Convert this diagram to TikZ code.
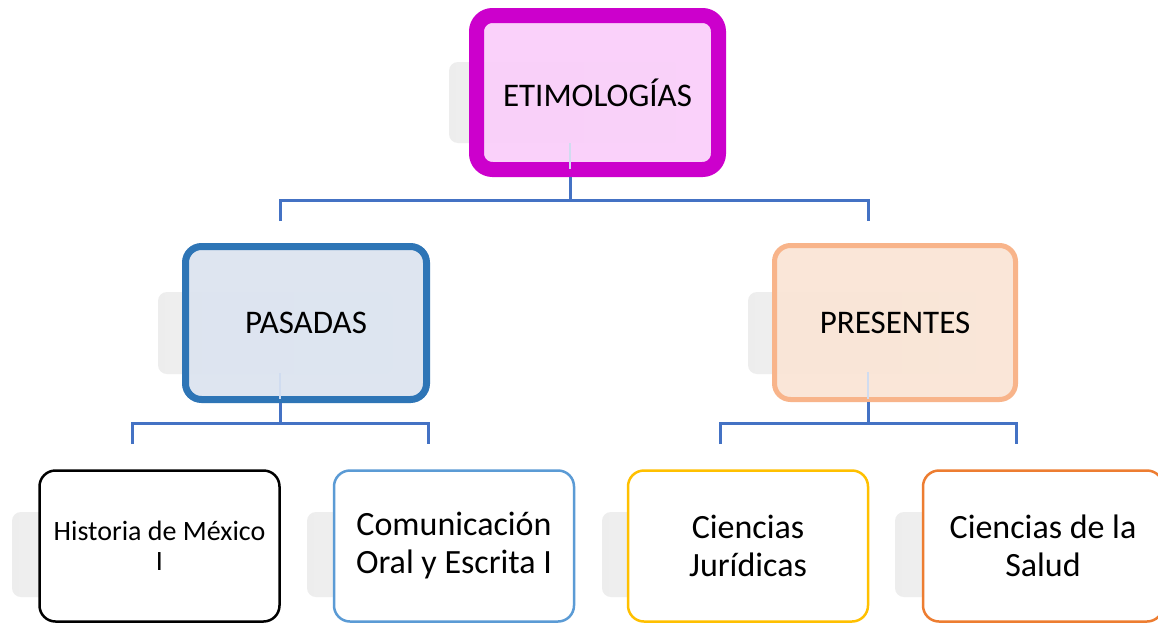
\documentclass[tikz,border=0pt]{standalone}
\usepackage{fontspec}
\setmainfont{Carlito}
\definecolor{magB}{RGB}{204,0,204}
\definecolor{magF}{RGB}{250,206,250}
\definecolor{bluB}{RGB}{46,117,182}
\definecolor{bluF}{RGB}{220,228,240}
\definecolor{orgB}{RGB}{248,180,138}
\definecolor{orgF}{RGB}{250,229,214}
\definecolor{comB}{RGB}{91,155,213}
\definecolor{jurB}{RGB}{255,192,0}
\definecolor{salB}{RGB}{237,125,49}
\definecolor{connC}{RGB}{68,114,196}
\tikzset{
  box/.style={rectangle, rounded corners=16pt, align=center, inner sep=0pt, text=black},
  bigbox/.style={box, minimum width=242pt, minimum height=154pt, font=\fontsize{33}{38}\selectfont},
  smallbox/.style={box, line width=2.5pt, fill=white, minimum width=240pt, minimum height=151pt, font=\fontsize{34}{38}\selectfont},
  ghost/.style={draw=none, rounded corners=9pt, left color=black!7, right color=black!2},
  conn/.style={draw=connC, line width=3pt},
  ghostline/.style={draw=connC!25, line width=2pt}
}
\begin{document}
\begin{tikzpicture}[x=1pt,y=-1pt]
\useasboundingbox (0,0) rectangle (1158,624);
\clip (0,0) rectangle (1158,624);
\fill[white] (0,0) rectangle (1158,624);
% ghost reflections
\path[ghost] (449,62) rectangle (683,143);
\path[ghost] (158,292) rectangle (393,374);
\path[ghost] (748,292) rectangle (983,374);
\path[ghost] (12,512) rectangle (247,597);
\path[ghost] (307,512) rectangle (542,597);
\path[ghost] (602,512) rectangle (837,597);
\path[ghost] (895,512) rectangle (1130,597);
% boxes
\node[bigbox, draw=magB, line width=15pt, fill=magF, fill opacity=0.92, text opacity=1] (top) at (597.5,92.5) {ETIMOLOGÍAS};
\node[bigbox, draw=bluB, line width=7pt, fill=bluF, fill opacity=0.94, text opacity=1, minimum width=241pt, minimum height=153pt] (pas) at (306,323) {PASADAS};
\node[bigbox, draw=orgB, line width=5pt, fill=orgF, fill opacity=0.94, text opacity=1, minimum width=241pt] (pre) at (895,322.5) {PRESENTES};
\node[smallbox, draw=black, font=\fontsize{28}{30}\selectfont] (his) at (159.5,546) {Historia de México\\I};
\node[smallbox, draw=comB] (com) at (454,546) {Comunicación\\Oral y Escrita I};
\node[smallbox, draw=jurB] (jur) at (748,546) {Ciencias\\Jurídicas};
\node[smallbox, draw=salB] (sal) at (1043,546) {Ciencias de la\\Salud};
% faint reflected connector stubs
\draw[ghostline] ([xshift=-27.5pt,yshift=34pt]top.south) -- ([xshift=-27.5pt,yshift=8pt]top.south);
\draw[ghostline] ([xshift=-26pt,yshift=30pt]pas.south) -- ([xshift=-26pt,yshift=4pt]pas.south);
\draw[ghostline] ([xshift=-27pt,yshift=30pt]pre.south) -- ([xshift=-27pt,yshift=3pt]pre.south);
% connectors
\coordinate (cPas) at (280,221);
\coordinate (cPre) at (868,221);
\coordinate (jTop) at (570,200);
\coordinate (cHis) at (132,444);
\coordinate (cCom) at (428,444);
\coordinate (jPas) at (280,423);
\coordinate (cJur) at (720,444);
\coordinate (cSal) at (1016,444);
\coordinate (jPre) at (868,423);
\draw[conn] ([xshift=-27.5pt]top.south) -- (jTop);
\draw[conn] (cPas) |- (jTop) -| (cPre);
\draw[conn] ([xshift=-26pt]pas.south) -- (jPas);
\draw[conn] (cHis) |- (jPas) -| (cCom);
\draw[conn] ([xshift=-27pt]pre.south) -- (jPre);
\draw[conn] (cJur) |- (jPre) -| (cSal);
\end{tikzpicture}
\end{document}
